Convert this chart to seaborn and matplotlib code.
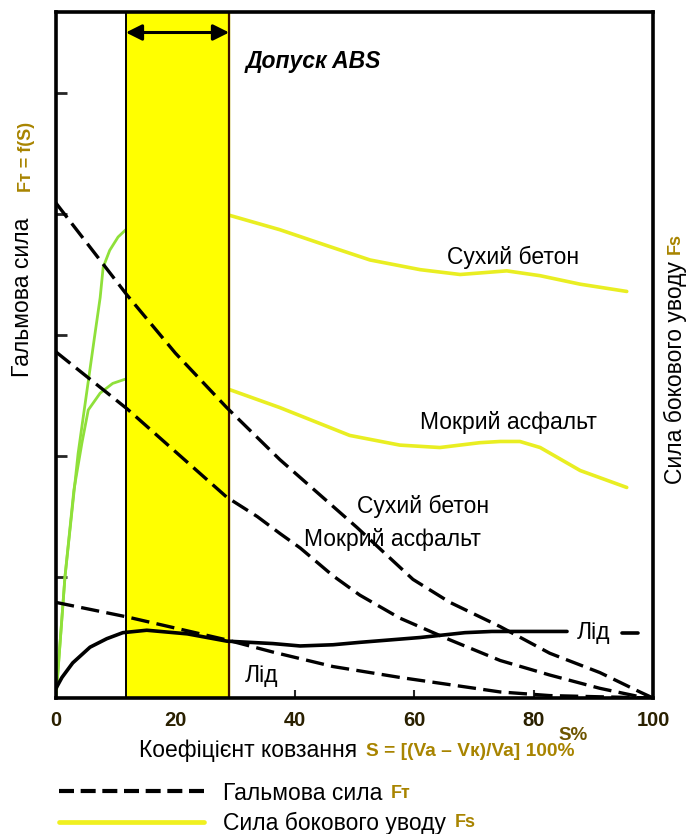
import matplotlib
matplotlib.use("Agg")
import matplotlib.pyplot as plt
from matplotlib.lines import Line2D
from matplotlib import font_manager
import pandas as pd
import seaborn as sns

# ---- data: slip S (%) and forces (relative units) ----
slip_ticks = [0, 20, 40, 60, 80, 100]
abs_window = [11.7, 29.0]

# braking force Fт = f(S)
brake_dry_s = [0, 11.9, 20, 28.6, 37.5, 50.4, 59.8, 66.0, 74.4, 82.7, 91.1, 97.8, 100]
brake_dry_f = [4.09, 3.33, 2.85, 2.40, 1.97, 1.41, 0.98, 0.79, 0.59, 0.37, 0.21, 0.05, 0.0]

brake_wet_s = [0, 11.9, 28.6, 33.7, 37.5, 40.9, 46.4, 50.9, 57.6, 66.0, 74.4, 82.7, 91.1, 97.8, 100]
brake_wet_f = [2.86, 2.39, 1.66, 1.50, 1.36, 1.24, 1.01, 0.85, 0.66, 0.48, 0.31, 0.19, 0.08, 0.01, 0.0]

brake_ice_s = [0, 11.9, 28.6, 36.3, 46.4, 57.6, 66.0, 74.4, 82.7, 91.1, 100]
brake_ice_f = [0.79, 0.67, 0.48, 0.38, 0.26, 0.17, 0.11, 0.05, 0.02, 0.01, 0.0]

# lateral force Fs
lat_dry_s = [0, 1.5, 3.7, 6.5, 7.4, 7.9, 9.0, 10.4, 11.9, 20, 29.0, 37.5, 45.9,
             52.6, 61.0, 67.7, 75.5, 81.1, 87.8, 95.6]
lat_dry_f = [0, 1.0, 2.02, 3.0, 3.31, 3.56, 3.70, 3.81, 3.88, 4.02, 3.99, 3.87, 3.73,
             3.62, 3.54, 3.50, 3.53, 3.49, 3.42, 3.36]

lat_wet_s = [0, 1.5, 3.0, 4.35, 5.4, 7.4, 9.5, 11.9, 20, 29.0, 37.5, 49.2, 57.6,
             64.3, 71.0, 74.4, 77.7, 81.1, 87.8, 95.6]
lat_wet_f = [0, 1.0, 1.72, 2.11, 2.38, 2.52, 2.60, 2.64, 2.72, 2.55, 2.40, 2.17, 2.09,
             2.07, 2.11, 2.12, 2.12, 2.07, 1.88, 1.74]

lat_ice_s = [0, 1.0, 2.8, 5.7, 8.5, 11.2, 15.2, 22, 28.6, 36.3, 40.9, 46.4, 50.9,
             61.0, 68.5, 73.0, 85.6]
lat_ice_f = [0.08, 0.17, 0.29, 0.42, 0.49, 0.54, 0.56, 0.53, 0.47, 0.45, 0.43, 0.44, 0.46,
             0.50, 0.54, 0.55, 0.55]
lat_ice_tail_s = [94.8, 97.5]
lat_ice_tail_f = [0.54, 0.54]

# ---- style ----
sns.set_theme(style="white")
plt.rcParams["font.family"] = ["Liberation Sans", "DejaVu Sans"]
plt.rcParams["text.color"] = "black"

installed = {f.name for f in font_manager.fontManager.ttflist}
narrow = ["Liberation Sans Narrow", "Liberation Sans", "DejaVu Sans"] if "Liberation Sans Narrow" in installed \
    else ["Liberation Sans", "DejaVu Sans"]

GOLD = "#a88400"
YELLOW = "#e9ee22"
GREEN = "#8fe03a"
DASH = (0, (5.5, 2.2))
FS = 16.5

W, H = 695, 834
fig = plt.figure(figsize=(W / 100, H / 100), dpi=100)
ax = fig.add_axes([56 / W, 1 - 698 / H, (653 - 56) / W, (698 - 12) / H])
ax.set_facecolor("white")


def frame(s, f):
    return pd.DataFrame({"S": s, "F": f})


# ABS tolerance band
ax.axvspan(abs_window[0], abs_window[1], color="#ffff00", zorder=1)
ax.axvline(abs_window[0], color="black", lw=1.4, zorder=1.5)
ax.axvline(abs_window[1], color="#3b0d00", lw=1.6, zorder=1.5)

# lateral force curves (under the band)
for s, f in [(lat_dry_s, lat_dry_f), (lat_wet_s, lat_wet_f)]:
    d = frame(s, f)
    sns.lineplot(data=d[d.S <= 12], x="S", y="F", ax=ax, color=GREEN, lw=2.0,
                 sort=False, estimator=None, zorder=0.8)
    sns.lineplot(data=d[d.S >= 11.9], x="S", y="F", ax=ax, color=YELLOW, lw=2.6,
                 sort=False, estimator=None, zorder=0.8)

# ice lateral force (solid black)
sns.lineplot(data=frame(lat_ice_s, lat_ice_f), x="S", y="F", ax=ax, color="black", lw=2.6,
             sort=False, estimator=None, zorder=3)
sns.lineplot(data=frame(lat_ice_tail_s, lat_ice_tail_f), x="S", y="F", ax=ax, color="black",
             lw=2.6, sort=False, estimator=None, zorder=3)

# braking force curves (dashed)
for s, f in [(brake_dry_s, brake_dry_f), (brake_wet_s, brake_wet_f), (brake_ice_s, brake_ice_f)]:
    sns.lineplot(data=frame(s, f), x="S", y="F", ax=ax, color="black", lw=2.4,
                 linestyle=DASH, sort=False, estimator=None, zorder=3)

ax.set_xlim(0, 100)
ax.set_ylim(0, (698 - 12) / 121)
ax.set_xlabel("")
ax.set_ylabel("")

ax.set_xticks(slip_ticks)
ax.set_xticklabels([str(t) for t in slip_ticks], fontfamily=narrow, fontweight="bold",
                   fontsize=14.5, color="#2a2000")
ax.tick_params(axis="x", direction="in", length=6, width=1.5, pad=9, bottom=True)
ax.set_yticks([1, 2, 3, 4, 5])
ax.set_yticklabels([])
ax.tick_params(axis="y", direction="in", length=8, width=2, left=True)
for sp in ax.spines.values():
    sp.set_color("black")
    sp.set_linewidth(2.6)
    sp.set_visible(True)

# ABS window arrow and caption
ax.annotate("", xy=(abs_window[1], 5.5), xytext=(abs_window[0], 5.5),
            arrowprops=dict(arrowstyle="<|-|>", color="black", lw=2.2,
                            mutation_scale=24, shrinkA=0, shrinkB=0), zorder=5)
ax.text(31.7, 5.26, "Допуск ABS", fontsize=16.5, fontweight="bold", fontstyle="italic",
        ha="left", va="center")

# curve captions
lab = dict(fontsize=FS, va="center", ha="left", zorder=6)
ax.text(65.5, 3.64, "Сухий бетон", **lab)
ax.text(61.0, 2.28, "Мокрий асфальт", **lab)
ax.text(50.4, 1.58, "Сухий бетон", **lab)
ax.text(41.6, 1.31, "Мокрий асфальт", **lab)
ax.text(87.3, 0.54, "Лід", **lab)
ax.text(31.6, 0.19, "Лід", **lab)

# axis titles
fig.text(23 / W, 1 - 297 / H, "Гальмова сила", rotation=90, fontsize=FS,
         ha="center", va="center")
fig.text(27 / W, 1 - 157 / H, "Fт = f(S)", rotation=90, fontsize=13, fontweight="bold",
         color=GOLD, ha="center", va="center", family=narrow)
fig.text(675 / W, 1 - 373 / H, "Сила бокового уводу", rotation=90, fontsize=FS,
         ha="center", va="center")
fig.text(675 / W, 1 - 243 / H, "Fs", rotation=90, fontsize=13, fontweight="bold",
         color=GOLD, ha="center", va="center", family=narrow)

fig.text(573 / W, 1 - 736 / H, "S%", fontsize=13.5, fontweight="bold", color="#6e5500",
         ha="center", va="center", family=narrow)
fig.text(357 / W, 1 - 751 / H, "Коефіцієнт ковзання", fontsize=FS,
         ha="right", va="center")
fig.text(366 / W, 1 - 751 / H, "S = [(Va – Vк)/Va] 100%", fontsize=13.8, fontweight="bold",
         color=GOLD, ha="left", va="center", family=narrow)

# legend
handles = [Line2D([], [], color="black", lw=3.0, linestyle=(0, (3.6, 1.6))),
           Line2D([], [], color="#f0f020", lw=3.4)]
leg = fig.legend(handles, ["Гальмова сила", "Сила бокового уводу"], loc="upper left",
                 bbox_to_anchor=(48 / W, 1 - 779 / H), frameon=False, fontsize=FS,
                 handlelength=6.3, handletextpad=0.85, labelspacing=0.3, borderpad=0)
fig.canvas.draw()
r = fig.canvas.get_renderer()
# keep the first legend row centred 793 px from the top
rows = [t.get_window_extent(r) for t in leg.get_texts()]
shift = (H - 793) - (rows[0].y0 + rows[0].y1) / 2
leg.set_bbox_to_anchor((48 / W, 1 - 779 / H + shift / H), transform=fig.transFigure)
fig.canvas.draw()
for t, sub in zip(leg.get_texts(), ["Fт", "Fs"]):
    bb = t.get_window_extent(r)
    fig.text((bb.x1 + 8) / W, (bb.y0 + bb.y1) / 2 / H, sub, fontsize=13,
             fontweight="bold", color=GOLD, ha="left", va="center", family=narrow)

fig.savefig("out.png", dpi=100, facecolor="white")
